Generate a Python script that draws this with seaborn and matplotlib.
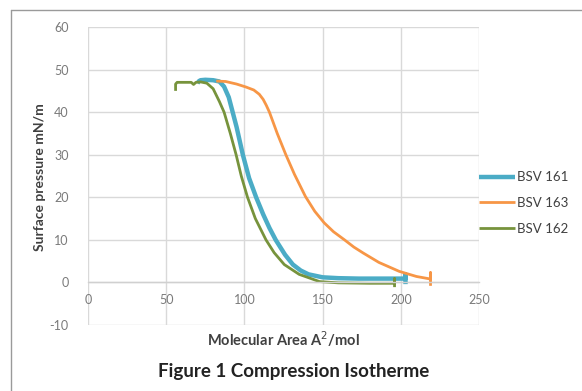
import numpy as np
import pandas as pd
import matplotlib
matplotlib.use("Agg")
import matplotlib.pyplot as plt
import seaborn as sns
from matplotlib.lines import Line2D

# ---- data ----
bsv161_x = [70, 71, 72, 75, 80, 84, 87, 90, 92.5, 95, 99, 103, 107.5, 112, 116, 120, 126, 131, 136, 141, 150, 160, 173, 190, 203, 203, 203]
bsv161_y = [46.8, 47.3, 47.5, 47.6, 47.5, 47.2, 46.0, 43.5, 40, 36.5, 30, 24.5, 20, 16, 12.8, 10, 6.5, 4.2, 2.8, 1.9, 1.2, 1.0, 0.9, 0.9, 0.9, 1.9, -0.4]

bsv163_x = [82, 88, 95, 101, 106, 109.5, 112, 114, 116, 121, 126.5, 132, 139, 145, 151, 157, 164, 170, 176, 186, 199, 210, 219, 219, 219]
bsv163_y = [47.3, 47.2, 46.6, 45.9, 45.2, 44.2, 43.0, 41.6, 40, 35, 30, 25.4, 20.2, 16.7, 14.0, 11.9, 10, 8.3, 6.9, 4.7, 2.6, 1.4, 0.8, 2.3, -0.8]

bsv162_x = [56, 56, 57, 62, 66, 67.5, 69, 72, 76, 80, 84, 87, 91, 94.7, 98, 102, 107, 113.8, 119, 125.5, 135, 148, 160, 180, 196, 196, 196]
bsv162_y = [45.0, 46.6, 47.0, 47.0, 47.0, 46.5, 47.0, 47.1, 46.8, 45.5, 42.5, 40, 35, 30, 25, 20, 15, 10, 7, 4.2, 1.9, 0.2, -0.1, -0.2, -0.2, 0.9, -1.1]

series_names = ["BSV 161", "BSV 163", "BSV 162"]
x_ticks = [0, 50, 100, 150, 200, 250]
y_ticks = [-10, 0, 10, 20, 30, 40, 50, 60]

frames = []
for name, xs, ys in [("BSV 161", bsv161_x, bsv161_y),
                     ("BSV 163", bsv163_x, bsv163_y),
                     ("BSV 162", bsv162_x, bsv162_y)]:
    frames.append(pd.DataFrame({"area": xs, "pressure": ys, "series": name}))
df = pd.concat(frames, ignore_index=True)

colors = {"BSV 161": "#4bacc6", "BSV 163": "#f79646", "BSV 162": "#77933c"}
widths = {"BSV 161": 3.2, "BSV 163": 2.0, "BSV 162": 2.0}

sns.set_theme(style="white")
plt.rcParams["font.family"] = ["Lato", "DejaVu Sans"]
plt.rcParams["axes.unicode_minus"] = False

fig = plt.figure(figsize=(5.82, 3.91), dpi=100)
ax = fig.add_axes([88 / 582, 1 - 325 / 391, (479 - 88) / 582, (325 - 27) / 391])

for name in series_names:
    sub = df[df["series"] == name]
    sns.lineplot(data=sub, x="area", y="pressure", sort=False, estimator=None,
                 color=colors[name], linewidth=widths[name], ax=ax, label=name,
                 solid_capstyle="butt")

ax.set_xlim(0, 250)
ax.set_ylim(-10, 60)
ax.set_xticks(x_ticks)
ax.set_yticks(y_ticks)
ax.grid(True, color="#d9d9d9", linewidth=1.0)
ax.set_axisbelow(True)
for s in ["top", "right", "left"]:
    ax.spines[s].set_visible(False)
ax.spines["bottom"].set_position(("data", 0))
ax.spines["bottom"].set_color("#d0d0d0")
ax.spines["bottom"].set_linewidth(1.0)
ax.tick_params(axis="both", length=0, labelsize=9, labelcolor="#7a7a7a")
ax.tick_params(axis="x", pad=8)
ax.tick_params(axis="y", pad=14)
ax.set_xlabel("")
ax.set_ylabel("")

fig.text(40 / 582, 1 - 177 / 391, "Surface pressure mN/m", rotation=90,
         ha="center", va="center", fontsize=10, fontweight="bold", color="#404040")
fig.text(283 / 582, 1 - 339 / 391, "Molecular Area A$^{2}$/mol", ha="center", va="center",
         fontsize=10.5, fontweight="bold", color="#404040")
fig.text(294 / 582, 1 - 371 / 391, "Figure 1 Compression Isotherme", ha="center",
         va="center", fontsize=13.5, fontweight="bold", color="#222222")

leg = ax.legend(loc="center left", bbox_to_anchor=(1.0, (325 - 203) / (325 - 27)),
                frameon=False, fontsize=9.5, handlelength=2.7, handletextpad=0.2,
                labelspacing=1.05, borderaxespad=0, borderpad=0)
for t in leg.get_texts():
    t.set_color("#404040")

# outer chart frame
fig.add_artist(Line2D([11 / 582, 1.0], [1 - 10 / 391, 1 - 10 / 391],
                      transform=fig.transFigure, color="#9a9a9a", linewidth=1.0))
fig.add_artist(Line2D([11 / 582, 11 / 582], [0, 1 - 10 / 391],
                      transform=fig.transFigure, color="#9a9a9a", linewidth=1.0))

fig.savefig("out.png", dpi=100)
